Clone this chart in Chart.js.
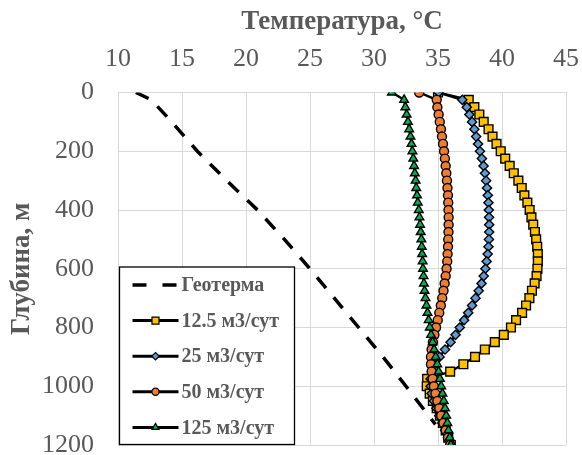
<!DOCTYPE html>
<html>
<head>
<meta charset="utf-8">
<script src="https://cdn.jsdelivr.net/npm/chart.js@4.4.1/dist/chart.umd.min.js"></script>
<style>
html, body { margin: 0; padding: 0; background: #fff; }
#wrap { width: 582px; height: 455px; }
</style>
</head>
<body>
<div id="wrap"><canvas id="chart"></canvas></div>
<script>
// depth, m
const depths = [0, 25, 50, 75, 100, 125, 150, 175, 200, 225, 250, 275, 300, 325, 350, 375,
  400, 425, 450, 475, 500, 525, 550, 575, 600, 625, 650, 675, 700, 725, 750, 775,
  800, 825, 850, 875, 900, 925, 950, 975, 1000, 1025, 1050, 1075, 1100, 1125, 1150, 1175, 1200];

// temperature, C
const t12 = [35.0, 37.4, 37.84, 38.23, 38.57, 38.95, 39.26, 39.57, 39.9, 40.25, 40.6, 40.92, 41.28, 41.54, 41.75, 41.98,
  42.16, 42.3, 42.44, 42.57, 42.67, 42.75, 42.8, 42.8, 42.77, 42.7, 42.55, 42.34, 42.14, 41.88, 41.57, 41.1,
  40.7, 40.14, 39.44, 38.66, 37.89, 36.98, 35.95, 34.15, 34.12, 34.35, 34.6, 34.9, 35.15, 35.38, 35.6, 35.8, 36.0];
const t25 = [35.05, 36.9, 37.25, 37.45, 37.66, 37.84, 37.98, 38.13, 38.28, 38.43, 38.56, 38.67, 38.76, 38.83, 38.89, 38.94,
  38.97, 38.99, 39.0, 39.0, 38.98, 38.94, 38.88, 38.8, 38.7, 38.57, 38.4, 38.18, 37.93, 37.66, 37.36, 37.04,
  36.7, 36.37, 35.98, 35.55, 35.12, 34.78, 34.55, 34.42, 34.42, 34.5, 34.68, 34.88, 35.1, 35.33, 35.56, 35.78, 35.98];
const t50 = [33.53, 34.9, 34.95, 35.05, 35.14, 35.23, 35.31, 35.39, 35.47, 35.54, 35.6, 35.65, 35.7, 35.74, 35.78, 35.8,
  35.82, 35.83, 35.83, 35.82, 35.8, 35.78, 35.75, 35.72, 35.67, 35.6, 35.52, 35.43, 35.33, 35.22, 35.1, 34.98,
  34.85, 34.72, 34.6, 34.5, 34.45, 34.45, 34.5, 34.58, 34.68, 34.8, 34.95, 35.1, 35.25, 35.42, 35.6, 35.78, 35.95];
const t125 = [31.4, 32.35, 32.45, 32.55, 32.65, 32.75, 32.85, 32.93, 33.0, 33.07, 33.13, 33.19, 33.25, 33.3, 33.36, 33.42,
  33.5, 33.55, 33.6, 33.65, 33.7, 33.73, 33.76, 33.8, 33.83, 33.87, 33.9, 33.95, 34.02, 34.1, 34.18, 34.27,
  34.36, 34.46, 34.58, 34.7, 34.82, 34.94, 35.05, 35.15, 35.25, 35.35, 35.45, 35.55, 35.64, 35.73, 35.82, 35.91, 36.0];

const geoDepth = [0, 25, 100, 200, 300, 400, 500, 600, 700, 800, 900, 1000, 1130];
const geoTemp = [11.4, 12.6, 14.2, 16.2, 18.5, 20.9, 23.0, 25.0, 26.9, 28.8, 30.7, 32.5, 34.8];

const xTicks = [10, 15, 20, 25, 30, 35, 40, 45];
const yTicks = [0, 200, 400, 600, 800, 1000, 1200];

const grey = '#595959';
const serif = '"Liberation Serif", "Times New Roman", serif';

function pts(temps, ds) {
  return ds.map((d, i) => ({ x: temps[i], y: d }));
}

function series(label, temps, style, fill, radius, order) {
  return {
    label: label,
    data: pts(temps, depths),
    showLine: true,
    borderColor: '#000',
    borderWidth: 2.4,
    pointStyle: style,
    pointRadius: radius,
    pointBackgroundColor: fill,
    pointBorderColor: '#000',
    pointBorderWidth: 1.4,
    order: order
  };
}

const datasets = [
  {
    label: 'Геотерма',
    data: pts(geoTemp, geoDepth),
    showLine: true,
    borderColor: '#000',
    borderWidth: 3.5,
    borderDash: [14, 12],
    pointRadius: 0,
    order: 4
  },
  series('12.5 м3/сут', t12, 'rect', '#FFC000', 6.2, 3),
  series('25 м3/сут', t25, 'rectRot', '#5B9BD5', 4.6, 2),
  series('50 м3/сут', t50, 'circle', '#ED7D31', 4.5, 1),
  series('125 м3/сут', t125, 'triangle', '#00B050', 5, 0)
];

// legend box inside the plot, bottom-left
const boxLegend = {
  id: 'boxLegend',
  afterDraw(chart) {
    const ctx = chart.ctx;
    const a = chart.chartArea;
    const x0 = a.left + 1.5, y0 = a.top + 174.5, w = 175, h = a.bottom - a.top - 175;
    ctx.save();
    ctx.fillStyle = '#fff';
    ctx.fillRect(x0, y0, w, h);
    ctx.strokeStyle = '#000';
    ctx.lineWidth = 1.3;
    ctx.strokeRect(x0, y0, w, h);
    chart.data.datasets.forEach((ds, i) => {
      const cy = y0 + 18 + i * 35.6;
      ctx.beginPath();
      ctx.strokeStyle = '#000';
      ctx.lineWidth = ds.borderDash ? 3.5 : 3;
      ctx.setLineDash(ds.borderDash ? [14, 16] : []);
      ctx.moveTo(x0 + 13, cy);
      ctx.lineTo(x0 + 59, cy);
      ctx.stroke();
      ctx.setLineDash([]);
      if (ds.pointRadius) {
        ctx.fillStyle = ds.pointBackgroundColor;
        ctx.strokeStyle = ds.pointBorderColor;
        ctx.lineWidth = 1.2;
        Chart.helpers.drawPoint(ctx, {
          pointStyle: ds.pointStyle, radius: ds.pointRadius * 0.8,
          rotation: 0, borderWidth: 1.2
        }, x0 + 36, cy);
      }
      ctx.fillStyle = grey;
      ctx.font = 'bold 20px ' + serif;
      ctx.textBaseline = 'middle';
      ctx.textAlign = 'left';
      ctx.fillText(ds.label, x0 + 62, cy + 1);
    });
    ctx.restore();
  }
};

new Chart(document.getElementById('chart'), {
  type: 'scatter',
  data: { datasets: datasets },
  plugins: [boxLegend],
  options: {
    responsive: true,
    maintainAspectRatio: false,
    animation: false,
    layout: { padding: { left: 0, top: 0, right: 16, bottom: 10 } },
    elements: { line: { tension: 0 } },
    plugins: { legend: { display: false }, tooltip: { enabled: false } },
    scales: {
      x: {
        type: 'linear',
        position: 'top',
        min: 10, max: 45,
        afterBuildTicks: s => { s.ticks = xTicks.map(v => ({ value: v })); },
        afterFit: s => { s.height = 92.5; s.paddingLeft = 0; s.paddingRight = 0; },
        grid: { color: '#d9d9d9', drawTicks: false },
        border: { color: '#d9d9d9' },
        ticks: { color: grey, padding: 18, font: { family: serif, size: 26 }, callback: v => String(v) },
        title: {
          display: true, text: 'Температура, °C', color: grey,
          padding: { top: 6, bottom: 0 },
          font: { family: serif, size: 27, weight: 'bold' }
        }
      },
      y: {
        type: 'linear',
        reverse: true,
        min: 0, max: 1200,
        afterBuildTicks: s => { s.ticks = yTicks.map(v => ({ value: v })); },
        afterFit: s => { s.width = 118; s.paddingTop = 0; s.paddingBottom = 0; },
        grid: { color: '#d9d9d9', drawTicks: false },
        border: { color: '#d9d9d9' },
        ticks: { color: grey, padding: 24, font: { family: serif, size: 26 }, callback: v => String(v) },
        title: {
          display: true, text: 'Глубина, м', color: grey,
          padding: { top: 6, bottom: 0 },
          font: { family: serif, size: 27, weight: 'bold' }
        }
      }
    }
  }
});
</script>
</body>
</html>
